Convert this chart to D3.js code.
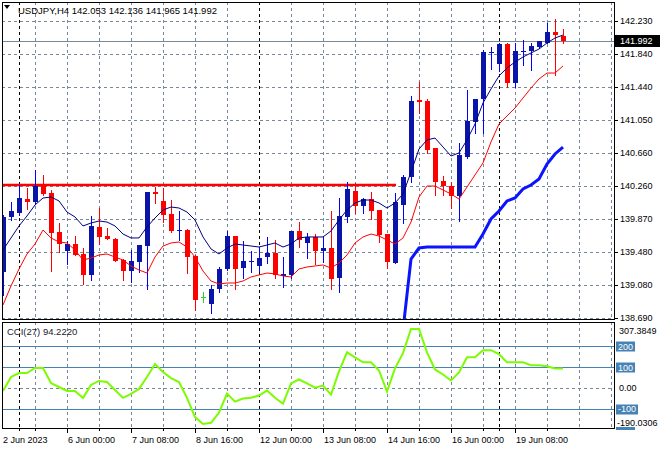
<!DOCTYPE html>
<html><head><meta charset="utf-8">
<script src="https://cdn.jsdelivr.net/npm/d3@7"></script>
<style>
body{margin:0;background:#fff;}
svg{display:block;font-family:"Liberation Sans",Arial,sans-serif;}
</style>
</head><body>
<svg id="c" width="660" height="450"></svg>
<script>
// ---------- DATA ----------
const symbolTitle = "USDJPY,H4  142.053 142.136 141.965 141.992";
const opens  = [139.238,139.894,139.942,140.108,140.073,140.263,140.180,139.715,139.489,139.572,
139.453,139.203,139.775,139.667,139.632,139.381,139.250,139.358,139.548,140.192,
140.085,139.930,139.727,139.739,139.429,138.940,138.857,139.036,139.274,139.667,
139.286,139.364,139.310,139.417,139.465,139.191,139.203,139.727,139.584,139.656,
139.489,139.524,139.167,139.894,140.204,140.025,140.108,139.977,139.691,139.346,
140.037,140.371,141.288,141.277,140.716,140.323,140.263,140.144,140.609,141.026,
141.300,141.849,141.718,141.956,141.491,141.867,141.872,141.920,141.968,142.099,
142.053];
const highs  = [139.918,140.073,140.275,140.240,140.454,140.395,140.216,139.822,139.608,139.667,
139.524,139.906,140.001,139.763,139.640,139.390,139.501,139.565,140.197,140.251,
140.240,140.096,139.965,139.745,139.435,139.000,139.083,139.298,139.727,139.672,
139.608,139.489,139.536,139.656,139.620,139.417,139.732,139.834,139.703,139.691,
139.656,139.965,140.120,140.311,140.299,140.115,140.192,139.982,139.696,140.180,
140.395,141.336,141.503,141.300,140.722,140.383,140.311,140.776,141.408,141.306,
141.884,141.920,141.962,141.968,141.968,142.004,141.968,141.997,142.206,142.254,
142.136];
const lows   = [138.964,139.858,139.918,139.989,140.065,140.160,139.250,139.477,139.334,139.435,
139.095,139.143,139.572,139.628,139.365,139.143,139.119,139.238,139.036,140.061,
139.834,139.715,139.620,139.226,138.785,138.881,138.750,139.000,139.262,139.036,
139.167,139.238,139.250,139.346,139.167,139.060,139.167,139.536,139.405,139.334,
139.358,139.036,139.000,139.834,139.942,139.942,139.870,139.596,139.286,139.340,
139.822,140.311,141.134,140.657,140.156,140.156,140.001,139.846,140.603,140.895,
140.895,141.658,141.634,141.443,141.443,141.706,141.646,141.914,141.962,141.586,
141.965];
const closes = [139.894,139.965,140.120,140.073,140.263,140.168,139.703,139.572,139.572,139.441,
139.203,139.787,139.656,139.632,139.370,139.250,139.370,139.560,140.192,140.168,
139.918,139.727,139.739,139.417,138.905,138.940,139.036,139.274,139.667,139.274,
139.370,139.375,139.405,139.465,139.203,139.215,139.727,139.620,139.656,139.489,
139.524,139.155,139.906,140.228,140.025,140.108,139.965,139.679,139.358,140.073,
140.371,141.277,141.265,140.692,140.311,140.263,140.144,140.633,141.038,141.300,
141.861,141.861,141.956,141.491,141.872,141.872,141.932,141.992,142.099,142.063,
141.992];
const maFast = [139.501,139.644,139.787,139.906,140.037,140.120,140.132,140.085,139.953,139.894,
139.787,139.822,139.846,139.834,139.787,139.691,139.644,139.644,139.775,139.882,
139.977,140.013,140.001,139.953,139.858,139.656,139.513,139.453,139.524,139.572,
139.560,139.548,139.536,139.560,139.584,139.536,139.572,139.644,139.656,139.656,
139.656,139.727,139.858,139.977,140.061,140.096,140.096,140.061,140.001,140.061,
140.168,140.430,140.704,140.812,140.835,140.728,140.621,140.657,140.812,141.002,
141.253,141.420,141.575,141.670,141.741,141.801,141.849,141.896,141.968,142.027,
142.063];
const maSlow = [138.845,139.072,139.274,139.453,139.572,139.739,139.644,139.596,139.584,139.501,
139.381,139.405,139.441,139.453,139.417,139.381,139.310,139.262,139.226,139.417,
139.548,139.584,139.596,139.536,139.417,139.250,139.131,139.095,139.107,139.107,
139.131,139.179,139.203,139.226,139.215,139.191,139.179,139.274,139.298,139.310,
139.322,139.286,139.346,139.441,139.584,139.656,139.691,139.667,139.620,139.572,
139.644,139.834,140.132,140.263,140.263,140.216,140.168,140.108,140.251,140.395,
140.538,140.788,141.002,141.098,141.193,141.312,141.431,141.539,141.610,141.610,
141.694];
const maLongStart = 50;
const maLong = [138.547,139.393,139.524,139.536,139.536,139.536,139.536,139.536,139.536,139.536,
139.691,139.870,139.965,140.085,140.120,140.228,140.275,140.347,140.526,140.645,140.728];
const cciValues = [-13,54,73,73,97,97,25,6,-13,-13,
-46,16,35,30,-8,-46,-27,-3,54,116,
78,49,30,-46,-138,-171,-165,-117,-25,-64,
-49,-45,-35,-11,-45,-74,23,42,23,3,
13,-30,81,172,148,124,124,85,-16,95,
168,284,284,172,90,66,37,76,148,148,
182,182,163,124,124,124,110,110,105,95,94.222];
const cciLabel = "CCI(27) 94.2220";
const cciMax = 307.3849, cciMin = -190.0306;
const cciLevels = [200, 100, -100];
const cciHiddenLevel = -200;
const priceTicks = [142.230,141.840,141.440,141.050,140.660,140.260,139.870,139.480,139.080,138.690];
const lastPrice = 141.992;
const resistanceLevel = 140.275, resistanceEndBar = 49;
const timeLabelBars = [0,8,16,24,32,40,48,56,64];
const timeLabels = ["2 Jun 2023","6 Jun 00:00","7 Jun 08:00","8 Jun 16:00","12 Jun 00:00","13 Jun 08:00","14 Jun 16:00","16 Jun 00:00","19 Jun 08:00"];
const weekSeparatorBars = [2,32,62];
const gridStepBars = 4, totalBarSlots = 76;

// ---------- LAYOUT ----------
const L = 2, R = 614, mainTop = 2, mainBot = 320, cciTop = 322, cciBot = 428;
const gridColor = "#778899";
const svg = d3.select("#c");
const x = d3.scaleLinear().domain([0, totalBarSlots]).range([3, 611]);
const y = d3.scaleLinear().domain([138.69, 142.23]).range([318, 21]);
const yc = d3.scaleLinear().domain([cciMin, cciMax]).range([428, 324]);
const px = v => Math.round(v) + 0.5;

const defs = svg.append("defs");
defs.append("clipPath").attr("id","clipMain").append("rect").attr("x",L).attr("y",mainTop).attr("width",R-L).attr("height",mainBot-mainTop);
defs.append("clipPath").attr("id","clipCci").append("rect").attr("x",L).attr("y",cciTop).attr("width",R-L).attr("height",cciBot-cciTop);

svg.append("rect").attr("width",660).attr("height",450).attr("fill","#fff");

const gMain = svg.append("g").attr("clip-path","url(#clipMain)");
const gCci = svg.append("g").attr("clip-path","url(#clipCci)");

// grid - horizontal (main)
gMain.selectAll("line.hg").data(priceTicks).join("line")
  .attr("x1",L).attr("x2",R).attr("y1",d=>px(y(d))).attr("y2",d=>px(y(d)))
  .attr("stroke",gridColor).attr("stroke-dasharray","3,3");
// vertical grid
const vBars = d3.range(gridStepBars, totalBarSlots+1, gridStepBars).filter(b=>!weekSeparatorBars.includes(b));
[ [gMain, mainTop, mainBot], [gCci, cciTop, cciBot] ].forEach(([g,t,b])=>{
  g.selectAll("line.vg").data(vBars).join("line")
    .attr("x1",d=>px(x(d))).attr("x2",d=>px(x(d))).attr("y1",t).attr("y2",b)
    .attr("stroke",gridColor).attr("stroke-dasharray","3,3");
  g.selectAll("line.ws").data(weekSeparatorBars).join("line")
    .attr("x1",d=>px(x(d))).attr("x2",d=>px(x(d))).attr("y1",t).attr("y2",b)
    .attr("stroke","#000").attr("stroke-dasharray","3,3");
});

// bid line
gMain.append("line").attr("x1",L).attr("x2",R).attr("y1",px(y(lastPrice))).attr("y2",px(y(lastPrice)))
  .attr("stroke",gridColor);
// resistance line
gMain.append("line").attr("x1",L).attr("x2",x(resistanceEndBar)+1).attr("y1",y(resistanceLevel)).attr("y2",y(resistanceLevel))
  .attr("stroke","#ff0000").attr("stroke-width",2.6);

// candles
const bars = opens.map((o,i)=>({i,o,h:highs[i],l:lows[i],c:closes[i]}));
const bull = "#0000ff", bullBody = "#0a14a8", bear = "#ff0000", doji = "#32cd32";
const cg = gMain.selectAll("g.candle").data(bars).join("g");
cg.append("line")
  .attr("x1",d=>Math.round(x(d.i))+0.5).attr("x2",d=>Math.round(x(d.i))+0.5)
  .attr("y1",d=>Math.round(y(d.h))).attr("y2",d=>Math.round(y(d.l))+1)
  .attr("stroke",d=>d.c>d.o?bull:(d.c<d.o?bear:doji));
cg.append("rect")
  .attr("x",d=>Math.round(x(d.i))-2).attr("width",5)
  .attr("y",d=>Math.round(y(Math.max(d.o,d.c))))
  .attr("height",d=>Math.max(1, Math.round(y(Math.min(d.o,d.c)))-Math.round(y(Math.max(d.o,d.c)))))
  .attr("fill",d=>d.c>d.o?bullBody:(d.c<d.o?bear:doji));

// moving averages
const lineGen = d3.line().x((d,i)=>x(i)).y(d=>y(d));
gMain.append("path").attr("d",lineGen(maSlow)).attr("fill","none").attr("stroke","#ff0000").attr("stroke-width",1);
gMain.append("path").attr("d",lineGen(maFast)).attr("fill","none").attr("stroke","#000080").attr("stroke-width",1);
gMain.append("path").attr("d",d3.line().x((d,i)=>x(i+maLongStart)).y(d=>y(d))(maLong))
  .attr("fill","none").attr("stroke","#0a14ff").attr("stroke-width",3);

// CCI panel
gCci.append("line").attr("x1",L).attr("x2",R).attr("y1",px(yc(0))).attr("y2",px(yc(0)))
  .attr("stroke",gridColor).attr("stroke-dasharray","3,3");
gCci.selectAll("line.lvl").data(cciLevels).join("line")
  .attr("x1",L).attr("x2",R).attr("y1",d=>px(yc(d))).attr("y2",d=>px(yc(d)))
  .attr("stroke","#4682b4");
gCci.append("path").attr("d",d3.line().x((d,i)=>x(i)).y(d=>yc(d))(cciValues))
  .attr("fill","none").attr("stroke","#7cfc00").attr("stroke-width",2);

// frames
svg.append("rect").attr("x",L+0.5).attr("y",mainTop+0.5).attr("width",R-L).attr("height",mainBot-mainTop-1)
  .attr("fill","none").attr("stroke","#000");
svg.append("rect").attr("x",L+0.5).attr("y",cciTop+0.5).attr("width",R-L).attr("height",cciBot-cciTop)
  .attr("fill","none").attr("stroke","#000");

// title
svg.append("path").attr("d","M4,5 L10,5 L7,9 Z").attr("fill","#000");
svg.append("text").attr("x",18).attr("y",13.5).attr("font-size",9.5).attr("fill","#000").text(symbolTitle);
svg.append("text").attr("x",7).attr("y",335).attr("font-size",9.5).attr("fill","#1a1a2a").text(cciLabel);

// right price axis
const ax = svg.append("g").attr("font-size",9).attr("fill","#000");
ax.selectAll("line").data(priceTicks).join("line")
  .attr("x1",R).attr("x2",R+4).attr("y1",d=>px(y(d))).attr("y2",d=>px(y(d))).attr("stroke","#000");
ax.selectAll("text").data(priceTicks).join("text")
  .attr("x",R+6).attr("y",d=>y(d)).attr("dy","0.35em").text(d=>d.toFixed(3));
// last price tag
const tagY = y(lastPrice);
svg.append("rect").attr("x",R+1).attr("y",Math.round(tagY)-6).attr("width",660-R-1).attr("height",12).attr("fill","#000");
svg.append("text").attr("x",R+6).attr("y",tagY).attr("dy","0.35em").attr("font-size",9).attr("fill","#fff").text(lastPrice.toFixed(3));

// CCI axis
const cax = svg.append("g").attr("font-size",9);
// sliver of the hidden -200 level tag peeking below the panel
cax.append("rect").attr("x",R+2).attr("y",Math.round(yc(cciHiddenLevel))-3).attr("width",19).attr("height",3).attr("fill","#4682b4");
cax.append("text").attr("x",R+5).attr("y",330.5).attr("dy","0.35em").text(cciMax.toFixed(4));
cax.append("text").attr("x",R+5).attr("y",yc(0)).attr("dy","0.35em").text("0.00");
cciLevels.forEach(v=>{
  const t = cax.append("text").attr("x",R+4).attr("y",yc(v)).attr("dy","0.35em").attr("fill","#fff").text(String(v));
  const w = t.node().getComputedTextLength();
  cax.insert("rect","text").attr("x",R+2).attr("y",Math.round(yc(v))-4.5).attr("width",w+4).attr("height",10).attr("fill","#4682b4");
});
cax.append("text").attr("x",R+3).attr("y",422.5).attr("dy","0.35em").text(cciMin.toFixed(4));

// time axis
const tx = svg.append("g");
tx.selectAll("line.maj").data(timeLabelBars.slice(1)).join("line")
  .attr("x1",d=>px(x(d))).attr("x2",d=>px(x(d))).attr("y1",cciBot).attr("y2",cciBot+5).attr("stroke","#000");
const minorBars = d3.range(4, totalBarSlots, 8).concat(weekSeparatorBars);
tx.selectAll("line.min").data(minorBars).join("line")
  .attr("x1",d=>px(x(d))).attr("x2",d=>px(x(d))).attr("y1",cciBot).attr("y2",cciBot+3).attr("stroke","#000");
tx.selectAll("text").data(timeLabelBars).join("text")
  .attr("x",(d,i)=>i===0?3:x(d)+1).attr("y",443).attr("font-size",9).attr("fill","#000")
  .text((d,i)=>timeLabels[i]);
</script>
</body></html>
